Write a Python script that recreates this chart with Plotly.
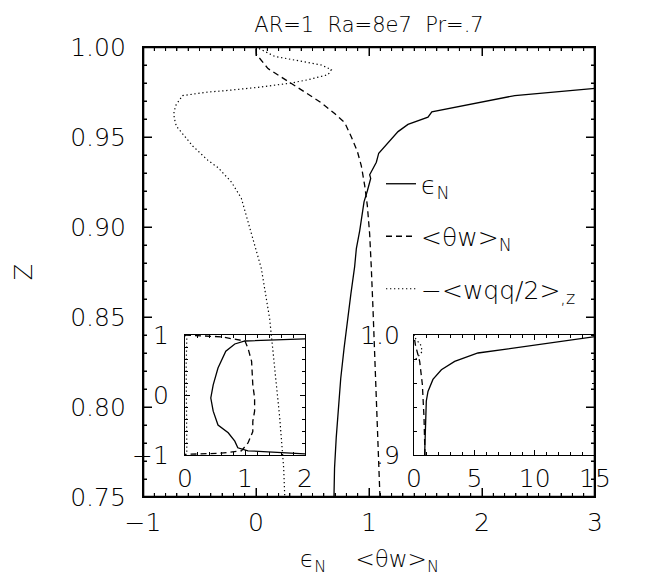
import numpy as np
import plotly.graph_objects as go

# ---------------- data ----------------
# main panel: z in [0.75, 1.0]
eps_x = [0.69, 0.695, 0.71, 0.73, 0.75, 0.78, 0.81, 0.84, 0.873, 0.888, 0.918, 0.938,
         0.956, 0.985, 1.015, 1.006, 1.065, 1.086, 1.168, 1.257, 1.345, 1.522, 1.556,
         2.29, 3.0, 4.0]
eps_z = [0.75, 0.766, 0.783, 0.799, 0.816, 0.833, 0.849, 0.863, 0.878, 0.888, 0.898, 0.907,
         0.914, 0.92, 0.927, 0.929, 0.936, 0.941, 0.947, 0.953, 0.957, 0.961, 0.964,
         0.973, 0.977, 0.980]
tw_x = [1.097, 1.07, 1.035, 1.02, 1.006, 0.985, 0.962, 0.932, 0.897, 0.844, 0.785, 0.696,
        0.578, 0.431, 0.254, 0.106, 0.003, 0.0]
tw_z = [0.75, 0.80, 0.855, 0.878, 0.896, 0.912, 0.923, 0.934, 0.942, 0.950, 0.958, 0.963,
        0.969, 0.975, 0.982, 0.988, 0.996, 1.0]
wqq_x = [0.254, 0.245, 0.21, 0.165, 0.121, 0.047, -0.012, -0.071, -0.13, -0.218, -0.336,
         -0.425, -0.56, -0.705, -0.724, -0.726, -0.706, -0.65, -0.425, -0.277, 0.018, 0.313,
         0.46, 0.637, 0.667, 0.578, 0.401, 0.165, 0.0]
wqq_z = [0.751, 0.766, 0.794, 0.822, 0.849, 0.877, 0.89, 0.903, 0.916, 0.925, 0.933,
         0.937, 0.945, 0.956, 0.9606, 0.964, 0.968, 0.973, 0.975, 0.9757, 0.9776, 0.98,
         0.9818, 0.9846, 0.9874, 0.990, 0.992, 0.9948, 1.0]

# left inset: whole profile, z in [-1, 1]
in1_eps_x = [15.0, 2.0, 1.0, 0.83, 0.68, 0.55, 0.47, 0.43, 0.47, 0.55, 0.72, 0.83, 0.88,
             1.05, 2.0, 15.0]
in1_eps_z = [1.0, 0.935, 0.9, 0.85, 0.73, 0.45, 0.17, -0.05, -0.27, -0.5, -0.63, -0.77,
             -0.88, -0.93, -0.98, -1.0]
in1_tw_x = [0.0, 0.6, 1.0, 1.05, 1.11, 1.13, 1.16, 1.16, 1.13, 1.13, 1.05, 0.94, 0.6, 0.0]
in1_tw_z = [1.0, 0.97, 0.9, 0.78, 0.56, 0.17, -0.05, -0.27, -0.44, -0.61, -0.8, -0.93,
            -0.97, -0.99]
in1_wqq_x = [0.0, 0.03, 0.02, 0.02, 0.03, 0.0]
in1_wqq_z = [1.0, 0.95, 0.5, -0.5, -0.95, -1.0]

# right inset: near the top wall, z in [0.9, 1.0]
in2_eps_x = [0.88, 0.94, 1.02, 1.16, 1.57, 2.27, 3.37, 5.3, 8.06, 10.8, 14.97, 16.0]
in2_eps_z = [0.9, 0.931, 0.945, 0.953, 0.963, 0.971, 0.978, 0.985, 0.989, 0.993, 0.999, 1.0]
in2_tw_x = [0.91, 0.83, 0.69, 0.47, 0.11, 0.0]
in2_tw_z = [0.9, 0.931, 0.959, 0.978, 0.992, 1.0]
in2_wqq_x = [-0.3, 0.0, 0.33, 0.66, 0.6, 0.05, 0.0]
in2_wqq_z = [0.975, 0.978, 0.982, 0.986, 0.991, 0.998, 1.0]

main_xticks = [-1, 0, 1, 2, 3]
main_xlabels = ["\u22121", "0", "1", "2", "3"]
main_yticks = [0.75, 0.80, 0.85, 0.90, 0.95, 1.00]
main_ylabels = ["0.75", "0.80", "0.85", "0.90", "0.95", "1.00"]
in1_xticks = [0, 1, 2]
in1_xlabels = ["0", "1", "2"]
in1_yticks = [-1, 0, 1]
in1_ylabels = ["\u22121", "0", "1"]
in2_xticks = [0, 5, 10, 15]
in2_xlabels = ["0", "5", "10", "15"]
in2_yticks = [0.9, 1.0]
in2_ylabels = [".9", "1.0"]

title = "AR=1\u00a0\u00a0Ra=8e7\u00a0\u00a0Pr=.7"
xtitle = "\u03f5<sub>N</sub>\u00a0\u00a0\u00a0\u00a0&lt;\u03b8w&gt;<sub>N</sub>"
names = ["\u03f5<sub>N</sub>", "&lt;\u03b8w&gt;<sub>N</sub>",
         "\u2212&lt;wqq/2&gt;<sub>,z</sub>"]

# ---------------- layout geometry ----------------
W, H = 652, 578
L, R, T, B = 135, 587, 39, 489
XR = [-1, 3]
YR = [0.75, 1.0]


def fx(px):
    return (px - L) / (R - L)


def fy(py):
    return (B - py) / (B - T)


FONT = "DejaVu Sans"
INK = "black"
LW = 1.3
styles = [dict(color=INK, width=LW, dash="solid"),
          dict(color=INK, width=LW, dash="6px,4px"),
          dict(color=INK, width=1.2, dash="1.3px,2.7px")]

fig = go.Figure()
for i, (xs, zs) in enumerate([(eps_x, eps_z), (tw_x, tw_z), (wqq_x, wqq_z)]):
    fig.add_trace(go.Scatter(x=xs, y=zs, mode="lines", line=styles[i], name=names[i],
                             legendgroup="g%d" % i, showlegend=True, xaxis="x", yaxis="y"))

# main frame and inward ticks, built from the main axis ranges and tick arrays
zpx = (YR[1] - YR[0]) / (B - T)      # data units per pixel, vertical
xpx = (XR[1] - XR[0]) / (R - L)      # data units per pixel, horizontal
fig.add_trace(go.Scatter(x=[XR[0], XR[1], XR[1], XR[0], XR[0]],
                         y=[YR[0], YR[0], YR[1], YR[1], YR[0]],
                         mode="lines", line=dict(color=INK, width=2.6),
                         showlegend=False, hoverinfo="skip", xaxis="x", yaxis="y"))
tx, ty = [], []
for v in np.round(np.arange(XR[0], XR[1] + 1e-9, 0.1), 2):
    n = 9 if any(abs(v - m) < 1e-6 for m in main_xticks) else 4
    tx += [v, v, None, v, v, None]
    ty += [YR[0], YR[0] + n * zpx, None, YR[1], YR[1] - n * zpx, None]
for v in np.round(np.arange(YR[0], YR[1] + 1e-9, 0.01), 3):
    n = 9 if any(abs(v - m) < 1e-6 for m in main_yticks) else 4
    tx += [XR[0], XR[0] + n * xpx, None, XR[1], XR[1] - n * xpx, None]
    ty += [v, v, None, v, v, None]
fig.add_trace(go.Scatter(x=tx, y=ty, mode="lines", line=dict(color=INK, width=1),
                         connectgaps=False, showlegend=False, hoverinfo="skip",
                         xaxis="x", yaxis="y"))

for i, (xs, zs) in enumerate([(in1_eps_x, in1_eps_z), (in1_tw_x, in1_tw_z),
                              (in1_wqq_x, in1_wqq_z)]):
    fig.add_trace(go.Scatter(x=xs, y=zs, mode="lines", line=styles[i], showlegend=False,
                             xaxis="x2", yaxis="y2"))
for i, (xs, zs) in enumerate([(in2_eps_x, in2_eps_z), (in2_tw_x, in2_tw_z),
                              (in2_wqq_x, in2_wqq_z)]):
    fig.add_trace(go.Scatter(x=xs, y=zs, mode="lines", line=styles[i], showlegend=False,
                             xaxis="x3", yaxis="y3"))

tickfont = dict(family=FONT, size=25, color=INK, weight=200)


def ax(**kw):
    base = dict(showline=True, linecolor=INK, linewidth=LW, mirror="allticks",
                ticks="inside", tickcolor=INK, tickwidth=1, ticklen=9,
                showgrid=False, zeroline=False, tickfont=tickfont, tickmode="array",
                automargin=False)
    base.update(kw)
    return base


fig.update_layout(
    width=W, height=H, autosize=False,
    margin=dict(l=L, r=W - R, t=T, b=H - B, pad=0, autoexpand=False),
    paper_bgcolor="white", plot_bgcolor="rgba(0,0,0,0)",
    font=dict(family=FONT, size=24, color=INK, weight=200),
    title=dict(text=title, x=0.5, xref="paper", xanchor="center",
               y=1 - 17 / H, yref="container", yanchor="middle",
               font=dict(family=FONT, size=21, color=INK, weight=200)),
    xaxis=ax(domain=[0, 1], range=XR, anchor="y", tickvals=main_xticks,
             ticktext=main_xlabels, ticklabelstandoff=3,
             minor=dict(dtick=0.1, tick0=0, ticks="inside", ticklen=4, tickcolor=INK)),
    yaxis=ax(domain=[0, 1], range=YR, anchor="x", tickvals=main_yticks,
             ticktext=main_ylabels, ticklabelstandoff=11,
             minor=dict(dtick=0.01, tick0=0.75, ticks="inside", ticklen=4, tickcolor=INK),
             title=dict(text="Z", standoff=30,
                        font=dict(family=FONT, size=24, color=INK, weight=200))),
    xaxis2=ax(domain=[fx(177), fx(297)], range=[0, 2], anchor="y2", tickvals=in1_xticks,
              ticktext=in1_xlabels, ticklen=5, ticklabelstandoff=1,
              minor=dict(dtick=0.2, tick0=0, ticks="inside", ticklen=3, tickcolor=INK)),
    yaxis2=ax(domain=[fy(447), fy(327)], range=[-1, 1], anchor="x2", tickvals=in1_yticks,
              ticktext=in1_ylabels, ticklen=5, ticklabelstandoff=10,
              minor=dict(dtick=0.2, tick0=-1, ticks="inside", ticklen=3, tickcolor=INK)),
    xaxis3=ax(domain=[fx(406), 1.0], range=[0, 15], anchor="y3", tickvals=in2_xticks,
              ticktext=in2_xlabels, ticklen=5, ticklabelstandoff=1,
              minor=dict(dtick=1, tick0=0, ticks="inside", ticklen=3, tickcolor=INK)),
    yaxis3=ax(domain=[fy(447), fy(327)], range=[0.9, 1.0], anchor="x3", tickvals=in2_yticks,
              ticktext=in2_ylabels, ticklen=5, ticklabelstandoff=8,
              minor=dict(dtick=0.02, tick0=0.9, ticks="inside", ticklen=3, tickcolor=INK)),
    showlegend=True,
    legend=dict(x=fx(373), y=fy(153), xanchor="left", yanchor="top",
                bgcolor="rgba(0,0,0,0)", borderwidth=0, itemwidth=30,
                traceorder="grouped", tracegroupgap=17,
                font=dict(family=FONT, size=25, color=INK, weight=200)),
)
fig.add_annotation(text=xtitle, x=0.5, xref="paper", xanchor="center", y=fy(553),
                   yref="paper", yanchor="middle", showarrow=False,
                   font=dict(family=FONT, size=23, color=INK, weight=200))

fig.write_html("out.html")
